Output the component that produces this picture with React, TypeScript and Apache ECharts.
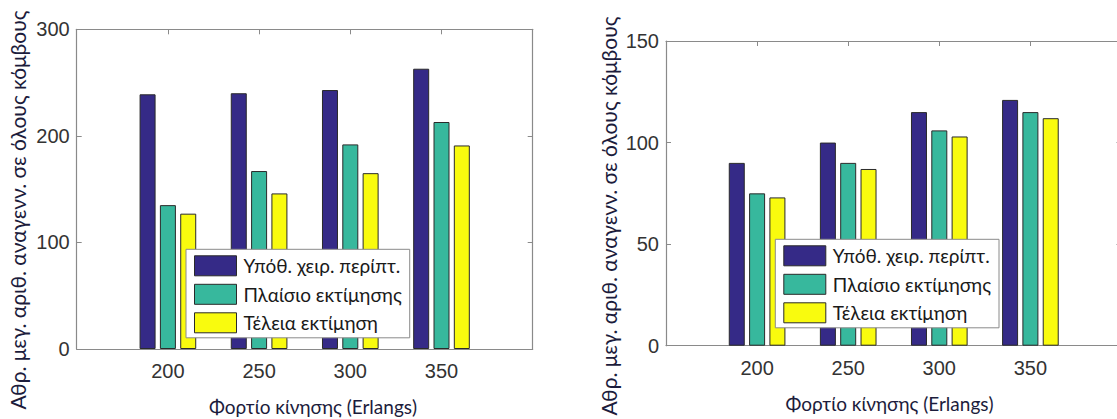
import React, { useEffect, useRef } from "react";
import * as echarts from "echarts";

const categories = [200, 250, 300, 350];
const seriesNames = ["Υπόθ. χειρ. περίπτ.", "Πλαίσιο εκτίμησης", "Τέλεια εκτίμηση"];
const leftWorst = [239, 240, 243, 263];
const leftFrame = [135, 167, 192, 213];
const leftPerfect = [127, 146, 165, 191];
const rightWorst = [90, 100, 115, 121];
const rightFrame = [75, 90, 106, 115];
const rightPerfect = [73, 87, 103, 112];
const leftYMax = 300;
const leftYStep = 100;
const rightYMax = 150;
const rightYStep = 50;
const xMin = 150;
const xMax = 400;
const xStep = 50;
const yTitle = "Αθρ. μεγ. αριθ. αναγενν. σε όλους κόμβους";
const xTitle = "Φορτίο κίνησης (Erlangs)";

const colors = ["#352a87", "#37b89d", "#f9fb0e"];
const axisColor = "#8a8a8a";
const labelColor = "#333333";
const titleColor = "#1c1c3c";
const tickFont = "Liberation Sans";
const textFont = "Lato";

function App() {
  const ref = useRef<HTMLDivElement>(null);
  useEffect(() => {
    if (!ref.current) return;
    const chart = echarts.init(ref.current, undefined, { renderer: "svg" });

    const xAxisBase = (gridIndex: number, position: "top" | "bottom", showLabel: boolean) => ({
      type: "value",
      gridIndex,
      position,
      min: xMin,
      max: xMax,
      interval: xStep,
      axisLine: { show: true, onZero: false, lineStyle: { color: axisColor, width: 1.2 } },
      axisTick: { show: true, inside: true, length: 5, lineStyle: { color: axisColor } },
      splitLine: { show: false },
      axisLabel: {
        show: showLabel,
        margin: 12,
        fontSize: 20,
        fontFamily: tickFont,
        color: labelColor,
        formatter: (v: number) => (categories.indexOf(v) >= 0 ? String(v) : ""),
      },
    });
    const yAxisBase = (gridIndex: number, position: "left" | "right", max: number, step: number, showLabel: boolean) => ({
      type: "value",
      gridIndex,
      position,
      min: 0,
      max,
      interval: step,
      axisLine: { show: true, lineStyle: { color: axisColor, width: 1.2 } },
      axisTick: { show: true, inside: true, length: 5, lineStyle: { color: axisColor } },
      splitLine: { show: false },
      axisLabel: {
        show: showLabel,
        margin: 7,
        fontSize: 20,
        fontFamily: tickFont,
        color: labelColor,
        padding: [4, 0, 0, 0],
      },
    });

    const mkSeries = (name: string, values: number[], color: string, axisIdx: number) => ({
      type: "bar",
      name,
      xAxisIndex: axisIdx,
      yAxisIndex: axisIdx,
      data: categories.map((c, i) => [c, values[i]]),
      barWidth: 16,
      barGap: "27%",
      itemStyle: { color, borderColor: "#2a2a2a", borderWidth: 1 },
    });

    const legendBase = (left: number, top: number) => ({
      left,
      top,
      orient: "vertical",
      icon: "rect",
      itemWidth: 42,
      itemHeight: 20,
      itemGap: 7.5,
      padding: [6, 8, 4.5, 8],
      borderColor: axisColor,
      borderWidth: 1,
      backgroundColor: "#ffffff",
      itemStyle: { borderColor: "#2a2a2a", borderWidth: 1 },
      textStyle: { fontFamily: textFont, fontSize: 19, color: "#1a1a1a", padding: [0, 0, 0, 2] },
      data: seriesNames,
      selectedMode: false,
    });

    const yTitleStyle = { fontFamily: textFont, fontSize: 21, fill: titleColor };
    const xTitleStyle = { fontFamily: textFont, fontSize: 19, fill: titleColor };

    chart.setOption({
      animation: false,
      backgroundColor: "#ffffff",
      grid: [
        { left: 76.7, top: 29.3, width: 456, height: 319.7, outerBoundsMode: "none", containLabel: false },
        { left: 666, top: 41, width: 455.5, height: 304.7, outerBoundsMode: "none", containLabel: false },
      ],
      xAxis: [
        xAxisBase(0, "bottom", true),
        xAxisBase(0, "top", false),
        xAxisBase(1, "bottom", true),
        xAxisBase(1, "top", false),
      ],
      yAxis: [
        yAxisBase(0, "left", leftYMax, leftYStep, true),
        yAxisBase(0, "right", leftYMax, leftYStep, false),
        yAxisBase(1, "left", rightYMax, rightYStep, true),
        yAxisBase(1, "right", rightYMax, rightYStep, false),
      ],
      legend: [legendBase(186, 249.3), legendBase(775.3, 239.3)],
      series: [
        mkSeries(seriesNames[0], leftWorst, colors[0], 0),
        mkSeries(seriesNames[1], leftFrame, colors[1], 0),
        mkSeries(seriesNames[2], leftPerfect, colors[2], 0),
        mkSeries(seriesNames[0], rightWorst, colors[0], 2),
        mkSeries(seriesNames[1], rightFrame, colors[1], 2),
        mkSeries(seriesNames[2], rightPerfect, colors[2], 2),
      ],
      graphic: [
        {
          type: "text",
          x: 17,
          y: 210,
          rotation: Math.PI / 2,
          style: { ...yTitleStyle, text: yTitle, align: "center", verticalAlign: "middle" },
        },
        {
          type: "text",
          x: 608,
          y: 216,
          rotation: Math.PI / 2,
          style: { ...yTitleStyle, text: yTitle, align: "center", verticalAlign: "middle" },
        },
        {
          type: "text",
          x: 313,
          y: 406,
          style: { ...xTitleStyle, text: xTitle, align: "center", verticalAlign: "middle" },
        },
        {
          type: "text",
          x: 889.5,
          y: 403,
          style: { ...xTitleStyle, text: xTitle, align: "center", verticalAlign: "middle" },
        },
      ],
    });
    return () => chart.dispose();
  }, []);
  return (
    <div
      ref={ref}
      style={{ position: "fixed", left: 0, top: 0, width: 1117, height: 419, background: "#fff" }}
    />
  );
}

export default App;
